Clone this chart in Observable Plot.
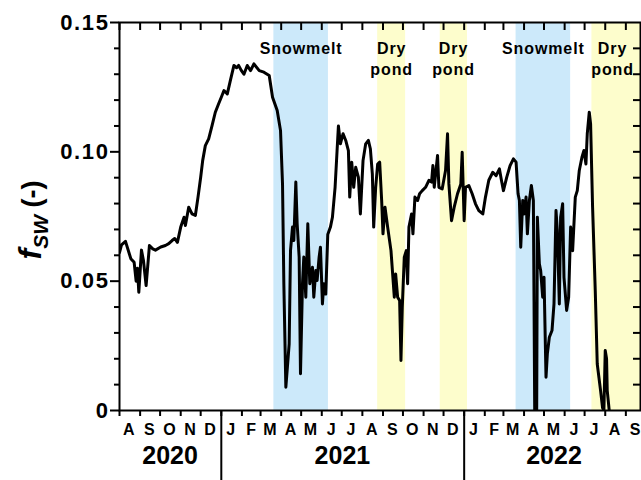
<!DOCTYPE html>
<html><head><meta charset="utf-8">
<script src="https://cdn.jsdelivr.net/npm/d3@7"></script>
<script src="https://cdn.jsdelivr.net/npm/@observablehq/plot@0.6"></script>
<style>body{margin:0;background:#fff} svg{display:block}</style>
</head><body><div id="chart"></div>
<script>
// days since 2020-08-01
const day = [
  0,3,9,17,22,25,27,29,33,36,
  40,45,50,54,62,69,74,79,83,87,
  92,97,99,104,109,114,118,122,125,129,
  134,139,144,149,153,157,162,167,172,176,
  179,183,187,192,197,202,210,217,225,230,
  237,242,245,247,250,255,257,260,262,265,
  267,270,272,275,277,280,283,286,290,292,
  295,297,300,302,305,307,310,313,317,320,
  324,327,329,332,336,340,344,346,349,352,
  355,359,362,366,370,374,377,380,382,385,
  388,391,394,396,399,403,408,413,415,418,
  421,423,425,428,431,433,435,439,441,444,
  448,451,455,460,465,469,471,473,478,480,
  485,490,493,495,499,503,508,513,515,518,
  520,525,530,535,540,546,550,555,561,566,
  571,574,577,582,587,592,596,599,601,603,
  606,608,611,613,616,619,622,623,624,627,
  628,631,633,636,638,641,643,646,650,653,
  656,658,661,663,666,668,672,675,678,681,
  685,688,691,695,698,701,703,706,708,711,
  715,718,723,726,728,730,732,733,736
];
const fsw = [
  .061,.064,.0654,.0587,.0573,.050,.055,.0457,.062,.058,
  .0483,.0638,.0625,.062,.0632,.0638,.0645,.0657,.0665,.065,
  .0709,.0747,.0715,.0786,.076,.0754,.0825,.0902,.0966,.1024,
  .105,.110,.1153,.1186,.1211,.1237,.1224,.128,.1334,.1325,
  .1334,.1315,.130,.1334,.1314,.134,.1314,.1308,.1295,.1211,
  .116,.1082,.0876,.049,.009,.0258,.0618,.0709,.0657,.0883,
  .0722,.0593,.0142,.049,.0593,.0438,.0722,.049,.0554,.0438,
  .0541,.0503,.0593,.0631,.0412,.049,.045,.068,.0709,.0747,
  .0863,.1005,.110,.1031,.107,.1044,.1005,.0825,.096,.0863,
  .094,.0902,.076,.0966,.1031,.1044,.1012,.0915,.0709,.0863,
  .0953,.096,.0812,.0683,.0786,.0709,.0618,.0438,.0528,.0438,
  .0425,.0193,.040,.0593,.0618,.049,.0709,.076,.0683,.0825,
  .0812,.0838,.085,.0863,.089,.0883,.0947,.0863,.0986,.0863,
  .0857,.0928,.107,.0876,.0734,.0786,.0838,.0876,.0998,.0734,
  .0863,.087,.0838,.0799,.0773,.076,.0825,.089,.0921,.0908,
  .0934,.089,.085,.0902,.0947,.0973,.096,.0838,.0812,.0631,
  .0812,.076,.0825,.0683,.0812,.087,.0812,.0425,0,0,
  .0747,.0567,.054,.0438,.0515,.0129,.0219,.0283,.0309,.0412,
  .0773,.0696,.0412,.0747,.0799,.0515,.0387,.0438,.0709,.0618,
  .0825,.085,.0928,.0979,.1005,.0953,.107,.1153,.1108,.0786,
  .0464,.018,.0077,.001,0,.0232,.02,.0077,0
];

const bandStart = ["2021-03-21","2021-08-24","2021-11-26","2022-03-20","2022-07-12"];
const bandEnd   = ["2021-06-11","2021-10-05","2022-01-06","2022-06-10","2022-09-30"];
const bandLabel = ["Snowmelt","Dry\npond","Dry\npond","Snowmelt","Dry\npond"];
const bandLabelDate = ["2021-05-01","2021-09-14","2021-12-16","2022-04-30","2022-08-12"];
const bandColor = ["#cce9fa","#fdfdcc","#fdfdcc","#cce9fa","#fdfdcc"];

const monthLetters = ["J","F","M","A","M","J","J","A","S","O","N","D"];
const yearNames = ["2020","2021","2022"];
const yearLabelDate = ["2020-10-16","2021-07-02","2022-05-16"];
const yearStartDates = ["2021-01-01","2022-01-01"];
const yMajor = [0, 0.05, 0.10, 0.15];
const yMinor = [0.01,0.02,0.03,0.04,0.06,0.07,0.08,0.09,0.11,0.12,0.13,0.14];
const yTickLabels = ["0","0.05","0.10","0.15"];

const xStart = new Date("2020-08-01");
const xEnd = new Date("2022-09-23");
const baseMs = Date.UTC(2020, 7, 1);

const series = day.map((d, i) => ({date: new Date(baseMs + d * 864e5), value: fsw[i]}));
const bands = bandStart.map((s, i) => ({start: new Date(s), end: new Date(bandEnd[i]), label: bandLabel[i], labelDate: new Date(bandLabelDate[i]), color: bandColor[i]}));
const monthStarts = d3.utcMonth.range(xStart, d3.utcDay.offset(xEnd, 1));
const monthMids = monthStarts.map(m => d3.utcDay.offset(m, 14));
const years = yearNames.map((y, i) => ({year: y, date: new Date(yearLabelDate[i])}));
const yearStarts = yearStartDates.map(d => new Date(d));

const font = "'Liberation Sans', Arial, Helvetica, sans-serif";

const svg = Plot.plot({
  width: 641, height: 480,
  marginLeft: 119, marginRight: 1, marginTop: 22, marginBottom: 70,
  style: {fontFamily: font, fontWeight: "bold", background: "#fff", color: "#000", overflow: "visible"},
  x: {type: "utc", domain: [xStart, xEnd]},
  y: {domain: [0, 0.15]},
  color: {type: "identity"},
  marks: [
    Plot.rect(bands, {x1: "start", x2: "end", y1: 0, y2: 0.15, fill: "color", clip: true}),
    Plot.line(series, {x: "date", y: "value", stroke: "#000", strokeWidth: 3, strokeLinejoin: "round", clip: true}),
    Plot.text(bands, {x: "labelDate", text: "label", frameAnchor: "top", lineAnchor: "top", dy: 17, fontSize: 16, fontWeight: "bold", lineHeight: 1.3, fill: "#000"}),
    Plot.frame({stroke: "#000", strokeWidth: 2}),
    Plot.axisY({anchor: "left", ticks: yMajor, tickSize: 9, tickPadding: 1, tickFormat: d => yTickLabels[yMajor.indexOf(d)], fontSize: 22, strokeWidth: 2, label: null}),
    Plot.axisY({anchor: "left", ticks: yMinor, tickSize: 5, tickFormat: () => "", strokeWidth: 2, label: null}),
    Plot.axisY({anchor: "right", ticks: yMinor.concat([0.05, 0.10]), tickSize: -8, tickFormat: () => "", strokeWidth: 2, label: null}),
    Plot.axisX({anchor: "top", ticks: monthStarts, tickSize: -7, tickFormat: () => "", strokeWidth: 2, label: null}),
    Plot.axisX({anchor: "bottom", ticks: monthStarts, tickSize: 6, tickFormat: () => "", strokeWidth: 2, label: null}),
    Plot.axisX({anchor: "bottom", ticks: yearStarts, tickSize: 70, tickFormat: () => "", strokeWidth: 2, label: null}),
    Plot.text(monthMids, {x: d => d, text: d => monthLetters[d.getUTCMonth()], frameAnchor: "bottom", dy: 24, fontSize: 16, fill: "#000"}),
    Plot.text(years, {x: "date", text: "year", frameAnchor: "bottom", dy: 53, fontSize: 25, fill: "#000"})
  ]
});

d3.select(svg).selectAll("text")
  .filter(function() { const s = this.textContent; return s === "Snowmelt" || s === "Drypond"; })
  .style("letter-spacing", "0.9px");
d3.select(svg).selectAll("text")
  .filter(function() { return yTickLabels.includes(this.textContent); })
  .style("letter-spacing", "1.6px");

const t = d3.select(svg).append("text")
  .attr("transform", "translate(41,220) rotate(-90)")
  .attr("text-anchor", "middle")
  .attr("font-family", font)
  .attr("font-weight", "bold")
  .attr("fill", "#000");
t.append("tspan").attr("font-style", "italic").attr("font-size", 32).text("f");
t.append("tspan").attr("font-style", "italic").attr("font-size", 21).attr("dy", 7).text("SW");
t.append("tspan").attr("font-size", 27).attr("dy", -7).text(" (-)");

document.getElementById("chart").appendChild(svg);
</script></body></html>
